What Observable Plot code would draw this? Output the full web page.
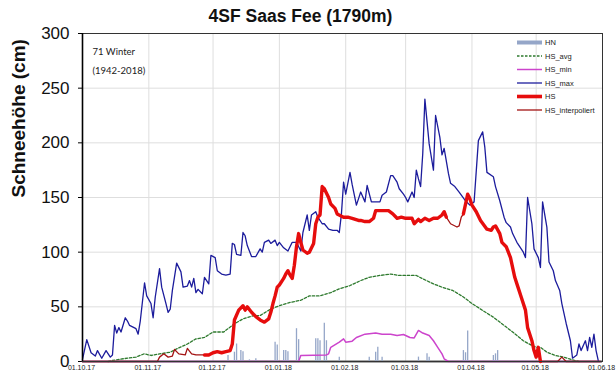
<!DOCTYPE html>
<html><head><meta charset="utf-8">
<script src="https://cdn.jsdelivr.net/npm/d3@7"></script>
<script src="https://cdn.jsdelivr.net/npm/@observablehq/plot@0.6"></script>
<style>body{margin:0;background:#fff} svg{display:block}</style>
</head><body><div id="chart"></div>
<script>
const titleText = "4SF Saas Fee (1790m)";
const yLabel = "Schneehöhe (cm)";
const noteLines = ["71 Winter", "(1942-2018)"];
const seasonStart = "2017-10-01";
const seasonEnd = "2018-06-01";
const yTicks = [0, 50, 100, 150, 200, 250, 300];
const legendLabels = ["HN", "HS_avg", "HS_min", "HS_max", "HS", "HS_interpoliert"];

// days since 01.10.2017
const hnDays   = [68, 71, 72, 74, 75, 78, 81, 90, 91, 94, 95, 96, 100, 101, 109, 110, 111, 113, 114, 120, 134, 137, 138, 140, 157, 161, 162, 178, 179, 180, 192, 193, 194];
const hnValues = [5.5, 8.5, 16, 10, 9, 1.5, 2.5, 17.7, 15, 10, 10, 9, 30, 20, 20.7, 20.7, 19, 35, 19, 4, 4, 8.5, 13, 4, 4, 7, 4, 10, 8, 28, 5.5, 7, 10];

const avgDays   = [12, 14, 19, 25, 28, 29, 32, 36, 41, 44, 49, 53, 57, 61, 66, 71, 75, 80, 83, 88, 92, 97, 102, 106, 111, 116, 120, 125, 130, 134, 139, 144, 148, 153, 156, 159, 164, 168, 173, 178, 182, 187, 192, 196, 201, 206, 210, 212, 214, 217, 221, 225, 229, 232];
const avgValues = [0, 1, 2.5, 4, 6.4, 7, 5.5, 7, 8.5, 11.6, 16, 20.7, 22, 27, 27, 34.5, 39, 42, 42, 48, 51, 54, 56, 60, 60, 63, 66.5, 69.5, 74, 77, 78.7, 80, 78.7, 78.7, 78.7, 75.6, 71, 68, 65, 59, 53, 46.7, 40.5, 34.5, 27, 19, 14.6, 13, 13, 8.5, 5.5, 4, 1.5, 0];

const minDays   = [0, 101, 102, 114, 115, 116, 120, 122, 123, 126, 128, 132, 137, 140, 144, 147, 150, 153, 155, 157, 159, 162, 164, 166, 168, 169, 171, 242];
const minValues = [0, 0, 5.5, 6, 7, 13, 17.7, 20.7, 17.7, 18.6, 22, 25, 26, 25, 25, 23.8, 24.7, 22, 21.6, 28.4, 26, 23.8, 19, 13, 7, 2.5, 0, 0];

const maxDays   = [0, 2, 4, 6, 7, 9, 11, 13, 14, 15, 16, 17, 18, 20, 21, 22, 25, 26, 27, 29, 30, 32, 33, 34, 36, 37, 39, 40, 41, 42, 44, 46, 47, 49, 50, 51, 52, 53, 54, 56, 57, 59, 60, 62, 63, 65, 67, 69, 70, 71, 72, 74, 75, 76, 77, 79, 81, 83, 84, 85, 87, 88, 90, 91, 92, 94, 96, 98, 100, 102, 103, 105, 106, 107, 109, 110, 112, 113, 115, 117, 119, 120, 121, 122, 123, 125, 126, 128, 129, 130, 132, 133, 135, 137, 139, 140, 142, 144, 145, 147, 148, 150, 151, 152, 154, 155, 156, 157, 158, 159, 160, 162, 164, 165, 167, 168, 169, 171, 172, 174, 176, 179, 181, 183, 185, 187, 188, 189, 192, 193, 195, 197, 198, 200, 201, 203, 206, 207, 208, 210, 211, 213, 214, 215, 217, 218, 220, 221, 223, 224, 226, 228, 229, 231, 232, 233, 235, 236, 237, 238, 239, 240, 241];
const maxValues = [2, 20, 8, 5, 10, 3, 10, 4, 6, 33, 26, 31, 27, 40, 37, 33, 30, 25, 37, 72, 60, 53, 40, 59, 85, 68, 53, 45, 48, 65, 90, 82, 68, 69, 74, 68, 76, 63, 66, 62, 77, 71, 97, 95, 83, 80, 79, 80, 108, 107, 98, 97, 118, 115, 106, 96, 96, 103, 100, 109, 111, 108, 111, 106, 109, 104, 101, 109, 109, 101, 118, 134, 120, 134, 137, 132, 126, 126, 121, 120, 120, 118, 135, 164, 153, 173, 162, 143, 149, 155, 146, 161, 146, 146, 146, 152, 155, 170, 170, 164, 158, 153, 150, 146, 155, 150, 175, 167, 160, 190, 240, 199, 175, 225, 205, 189, 195, 172, 163, 160, 155, 147, 143, 146, 202, 210, 196, 173, 169, 160, 147, 132, 127, 123, 117, 109, 100, 95, 150, 126, 103, 95, 86, 146, 123, 91, 83, 74, 65, 53, 35, 19, 3, 6, 16, 10, 19, 10, 22, 13, 25, 10, 1];

const hsDays   = [0, 35, 36, 38, 40, 42, 43, 45, 48, 49, 51, 53, 57, 59, 61, 63, 65, 67, 69, 70, 71, 73, 75, 76, 77, 79, 81, 83, 85, 87, 88, 89, 90, 91, 92, 94, 95, 96, 97, 98, 99, 100, 101, 102, 103, 105, 106, 108, 109, 110, 111, 112, 113, 115, 116, 118, 119, 122, 124, 126, 129, 130, 132, 134, 136, 137, 140, 143, 145, 147, 149, 151, 154, 155, 157, 158, 160, 162, 164, 166, 168, 169, 170, 172, 175, 176, 177, 178, 179, 180, 181, 182, 184, 186, 189, 191, 192, 193, 195, 196, 198, 200, 202, 203, 205, 207, 208, 210, 211, 212, 213, 214, 222, 224, 226, 242];
const hsValues = [0, 0, 4, 7, 4, 5, 11, 7, 6, 12, 7, 6, 6, 6, 8, 9, 8, 9, 10, 16, 38, 47, 51, 47, 50, 45, 41, 38, 36, 39, 45, 53, 60, 68, 70, 76, 80, 83, 79, 76, 88, 105, 117, 109, 102, 99, 100, 108, 126, 132, 134, 160, 158, 150, 144, 140, 135, 132, 132, 131, 129, 129, 128, 128, 131, 138, 138, 138, 135, 131, 132, 131, 131, 126, 130, 128, 131, 129, 131, 131, 134, 137, 132, 126, 123, 124, 132, 135, 144, 153, 149, 143, 137, 129, 121, 120, 123, 124, 117, 109, 105, 95, 77, 71, 59, 47, 31, 19, 10, 4, 13, 0, 0, 4, 0, 0];
// HS measured periods (rest drawn as HS_interpoliert)
const hsMeasuredRanges = [[57, 170], [178, 214]];

const C = {
  HN: "#95a6c8", HS_avg: "#2e7a2e", HS_min: "#cc44cc", HS_max: "#1c1c9c",
  HS: "#e60d0d", HS_interpoliert: "#a31414", base: "#555555"
};

const t0 = new Date(seasonStart + "T00:00:00Z");
const t1 = new Date(seasonEnd + "T00:00:00Z");
const toDate = d => d3.utcDay.offset(t0, d);
const rows = (days, vals) => days.map((d, i) => ({date: toDate(d), v: vals[i], day: d}));

const hn = rows(hnDays, hnValues);
const avg = rows(avgDays, avgValues);
const mn = rows(minDays, minValues);
const mx = rows(maxDays, maxValues);
const hsAll = rows(hsDays, hsValues);
const inMeasured = d => hsMeasuredRanges.some(([a, b]) => d >= a && d <= b);
const inInterp = d => !hsMeasuredRanges.some(([a, b]) => d > a && d < b);
const hsMeas = hsAll.map(r => ({...r, v: inMeasured(r.day) ? r.v : null}));
const hsInt = hsAll.map(r => ({...r, v: inInterp(r.day) ? r.v : null}));

const months = d3.utcMonth.range(t0, d3.utcDay.offset(t1, 1));
const font = "'Liberation Sans', Arial, sans-serif";

const chart = Plot.plot({
  width: 616, height: 374,
  marginLeft: 82, marginRight: 14, marginTop: 33, marginBottom: 13,
  style: {fontFamily: font, background: "#fff", overflow: "visible"},
  x: {type: "utc", domain: [t0, t1]},
  y: {domain: [0, 300]},
  marks: [
    Plot.gridX(months, {stroke: "#dedede", strokeOpacity: 1}),
    Plot.gridY(yTicks, {stroke: "#dedede", strokeOpacity: 1}),
    Plot.axisX(months, {tickSize: 0, tickPadding: 4, fontSize: 7, dx: -1, tickFormat: d3.utcFormat("%d.%m.%y"), label: null, fill: "#222"}),
    Plot.axisY(yTicks, {tickSize: 4, tickPadding: 9, fontSize: 17, label: null, fill: "#111"}),
    Plot.ruleY([0], {x1: t0, x2: t1, stroke: C.base, strokeWidth: 2}),
    Plot.ruleX(hn, {x: "date", y1: 0, y2: "v", stroke: C.HN, strokeWidth: 1.3}),
    Plot.line(avg, {x: "date", y: "v", stroke: C.HS_avg, strokeWidth: 1.3, strokeDasharray: "2.5,1.8"}),
    Plot.line(mn, {x: "date", y: "v", stroke: C.HS_min, strokeWidth: 1.5}),
    Plot.line(mx, {x: "date", y: "v", stroke: C.HS_max, strokeWidth: 1.3}),
    Plot.line(hsInt, {x: "date", y: "v", stroke: C.HS_interpoliert, strokeWidth: 1.3}),
    Plot.line(hsMeas, {x: "date", y: "v", stroke: C.HS, strokeWidth: 3.4}),
    Plot.frame({stroke: "#333", strokeWidth: 1}),
    Plot.ruleX([t0], {stroke: "#000", strokeWidth: 1.6}),
    Plot.text([titleText], {frameAnchor: "top", dy: -24, dx: -42, fontSize: 17.5, fontWeight: "bold", fill: "#111", fontFamily: font}),
    Plot.text([yLabel], {frameAnchor: "left", dx: -64, rotate: -90, fontSize: 19, fontWeight: "bold", fill: "#111", fontFamily: font}),
    Plot.text([noteLines[0]], {frameAnchor: "top-left", dx: 10, dy: 15, textAnchor: "start", fontSize: 9.5, fill: "#222", fontFamily: "Lato, 'Open Sans', sans-serif"}),
    Plot.text([noteLines[1]], {frameAnchor: "top-left", dx: 10, dy: 34, textAnchor: "start", fontSize: 9.5, fill: "#222", fontFamily: "Lato, 'Open Sans', sans-serif"})
  ]
});
document.getElementById("chart").appendChild(chart);

// legend (inside plot, upper right)
const svg = d3.select(chart);
const lg = svg.append("g").attr("font-family", font).attr("font-size", 7.5).attr("text-anchor", "start");
const legendStyle = {
  HN: {w: 4, dash: null}, HS_avg: {w: 1.3, dash: "2.5,1.5"}, HS_min: {w: 1.5, dash: null},
  HS_max: {w: 1.3, dash: null}, HS: {w: 3.6, dash: null}, HS_interpoliert: {w: 1.3, dash: null}
};
legendLabels.forEach((lab, i) => {
  const y = 42.5 + i * 13.5;
  const s = legendStyle[lab];
  lg.append("line").attr("x1", 517).attr("x2", 542).attr("y1", y).attr("y2", y)
    .attr("stroke", C[lab]).attr("stroke-width", s.w).attr("stroke-dasharray", s.dash);
  lg.append("text").attr("x", 545).attr("y", y).attr("dy", "0.35em").attr("text-anchor", "start").attr("fill", "#222").text(lab);
});
</script></body></html>
